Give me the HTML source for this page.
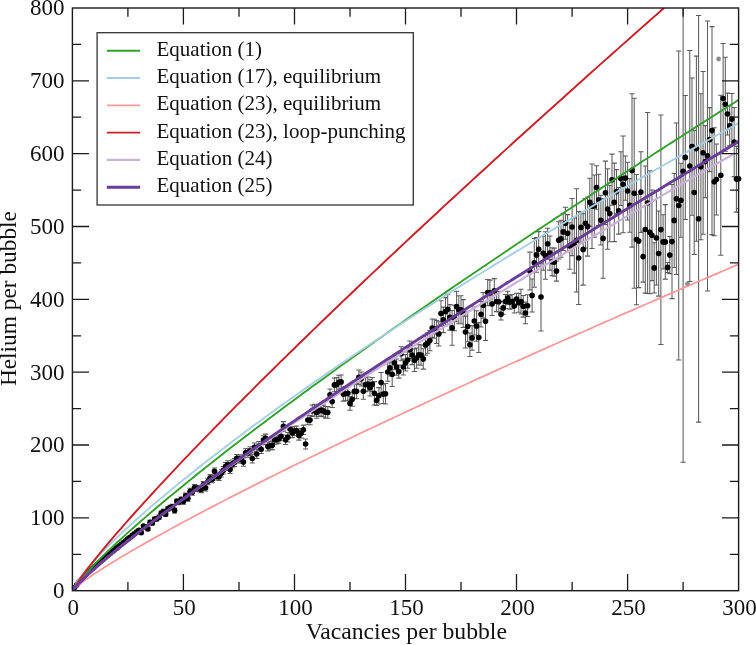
<!DOCTYPE html>
<html><head><meta charset="utf-8"><title>Helium per bubble</title>
<style>
html,body{margin:0;padding:0;background:#fff;}
body{width:756px;height:645px;position:relative;overflow:hidden;font-family:"Liberation Serif",serif;}
svg text{font-family:"Liberation Serif",serif;fill:#111;}
.lg{font-size:21px;}
.tk{font-size:23px;}
.ax{font-size:23.7px;}.ay{font-size:23.35px;}
</style></head><body>
<svg width="756" height="645" viewBox="0 0 756 645" style="position:absolute;left:0;top:0">
<defs><clipPath id="c"><rect x="72.4" y="8.0" width="666.2" height="582.7"/></clipPath></defs>
<g clip-path="url(#c)">
<path d="M74.6 587.4V587.5M72.0 587.4h5.2M72.0 587.5h5.2M76.8 584.6V584.8M74.2 584.6h5.2M74.2 584.8h5.2M79.1 581.9V582.3M76.5 581.9h5.2M76.5 582.3h5.2M81.3 579.3V579.8M78.7 579.3h5.2M78.7 579.8h5.2M83.5 576.8V577.3M80.9 576.8h5.2M80.9 577.3h5.2M85.7 574.3V575.0M83.1 574.3h5.2M83.1 575.0h5.2M87.9 572.2V573.0M85.3 572.2h5.2M85.3 573.0h5.2M90.2 570.1V571.0M87.6 570.1h5.2M87.6 571.0h5.2M92.4 568.1V569.1M89.8 568.1h5.2M89.8 569.1h5.2M94.6 566.1V567.1M92.0 566.1h5.2M92.0 567.1h5.2M96.8 564.1V565.3M94.2 564.1h5.2M94.2 565.3h5.2M99.0 562.1V563.4M96.4 562.1h5.2M96.4 563.4h5.2M101.3 560.1V561.5M98.7 560.1h5.2M98.7 561.5h5.2M103.5 558.2V559.7M100.9 558.2h5.2M100.9 559.7h5.2M105.7 556.2V557.9M103.1 556.2h5.2M103.1 557.9h5.2M107.9 554.3V556.1M105.3 554.3h5.2M105.3 556.1h5.2M110.2 552.4V554.3M107.6 552.4h5.2M107.6 554.3h5.2M112.4 550.5V552.5M109.8 550.5h5.2M109.8 552.5h5.2M114.6 548.6V550.7M112.0 548.6h5.2M112.0 550.7h5.2M116.8 546.8V548.9M114.2 546.8h5.2M114.2 548.9h5.2M119.0 544.9V547.2M116.4 544.9h5.2M116.4 547.2h5.2M121.3 543.1V545.5M118.7 543.1h5.2M118.7 545.5h5.2M123.5 541.2V543.7M120.9 541.2h5.2M120.9 543.7h5.2M125.7 539.4V542.0M123.1 539.4h5.2M123.1 542.0h5.2M127.9 537.6V540.3M125.3 537.6h5.2M125.3 540.3h5.2M130.1 535.8V538.6M127.5 535.8h5.2M127.5 538.6h5.2M132.4 533.9V536.9M129.8 533.9h5.2M129.8 536.9h5.2M134.6 532.1V535.2M132.0 532.1h5.2M132.0 535.2h5.2M136.8 530.4V533.5M134.2 530.4h5.2M134.2 533.5h5.2M139.0 528.6V531.9M136.4 528.6h5.2M136.4 531.9h5.2M141.2 530.9V534.3M138.6 530.9h5.2M138.6 534.3h5.2M143.5 524.4V527.9M140.9 524.4h5.2M140.9 527.9h5.2M145.7 525.1V528.7M143.1 525.1h5.2M143.1 528.7h5.2M147.9 527.1V530.8M145.3 527.1h5.2M145.3 530.8h5.2M150.1 520.3V524.2M147.5 520.3h5.2M147.5 524.2h5.2M152.3 521.0V524.9M149.7 521.0h5.2M149.7 524.9h5.2M154.6 517.1V521.2M152.0 517.1h5.2M152.0 521.2h5.2M156.8 516.8V520.9M154.2 516.8h5.2M154.2 520.9h5.2M159.0 515.0V519.3M156.4 515.0h5.2M156.4 519.3h5.2M161.2 511.1V515.4M158.6 511.1h5.2M158.6 515.4h5.2M163.4 509.2V513.7M160.8 509.2h5.2M160.8 513.7h5.2M165.7 511.8V516.4M163.1 511.8h5.2M163.1 516.4h5.2M167.9 506.6V511.3M165.3 506.6h5.2M165.3 511.3h5.2M170.1 505.2V510.0M167.5 505.2h5.2M167.5 510.0h5.2M172.3 504.3V509.2M169.7 504.3h5.2M169.7 509.2h5.2M174.6 507.9V512.9M172.0 507.9h5.2M172.0 512.9h5.2M176.8 498.9V504.0M174.2 498.9h5.2M174.2 504.0h5.2M179.0 499.4V504.7M176.4 499.4h5.2M176.4 504.7h5.2M181.2 496.9V502.2M178.6 496.9h5.2M178.6 502.2h5.2M183.4 498.7V504.2M180.8 498.7h5.2M180.8 504.2h5.2M185.7 493.1V498.7M183.1 493.1h5.2M183.1 498.7h5.2M187.9 495.6V501.2M185.3 495.6h5.2M185.3 501.2h5.2M190.1 488.3V494.1M187.5 488.3h5.2M187.5 494.1h5.2M192.3 489.3V495.2M189.7 489.3h5.2M189.7 495.2h5.2M194.5 484.5V490.5M191.9 484.5h5.2M191.9 490.5h5.2M196.8 485.3V491.4M194.2 485.3h5.2M194.2 491.4h5.2M199.0 485.4V491.6M196.4 485.4h5.2M196.4 491.6h5.2M201.2 486.3V492.6M198.6 486.3h5.2M198.6 492.6h5.2M203.4 481.4V487.8M200.8 481.4h5.2M200.8 487.8h5.2M205.6 484.4V491.0M203.0 484.4h5.2M203.0 491.0h5.2M207.9 478.2V484.8M205.3 478.2h5.2M205.3 484.8h5.2M210.1 474.6V481.4M207.5 474.6h5.2M207.5 481.4h5.2M212.3 475.9V482.8M209.7 475.9h5.2M209.7 482.8h5.2M214.5 467.9V474.9M211.9 467.9h5.2M211.9 474.9h5.2M216.7 472.8V479.9M214.1 472.8h5.2M214.1 479.9h5.2M219.0 473.1V480.4M216.4 473.1h5.2M216.4 480.4h5.2M221.2 469.7V477.0M218.6 469.7h5.2M218.6 477.0h5.2M223.4 466.5V473.9M220.8 466.5h5.2M220.8 473.9h5.2M225.6 462.4V470.0M223.0 462.4h5.2M223.0 470.0h5.2M227.8 460.8V468.5M225.2 460.8h5.2M225.2 468.5h5.2M230.1 465.8V473.5M227.5 465.8h5.2M227.5 473.5h5.2M232.3 460.0V467.8M229.7 460.0h5.2M229.7 467.8h5.2M234.5 458.5V466.5M231.9 458.5h5.2M231.9 466.5h5.2M236.7 454.4V462.4M234.1 454.4h5.2M234.1 462.4h5.2M239.0 454.9V463.0M236.4 454.9h5.2M236.4 463.0h5.2M241.2 454.8V463.1M238.6 454.8h5.2M238.6 463.1h5.2M243.4 457.9V466.3M240.8 457.9h5.2M240.8 466.3h5.2M245.6 448.7V457.2M243.0 448.7h5.2M243.0 457.2h5.2M247.8 448.6V457.2M245.2 448.6h5.2M245.2 457.2h5.2M250.1 446.7V455.4M247.5 446.7h5.2M247.5 455.4h5.2M252.3 454.1V462.9M249.7 454.1h5.2M249.7 462.9h5.2M254.5 442.9V451.9M251.9 442.9h5.2M251.9 451.9h5.2M256.7 449.4V458.5M254.1 449.4h5.2M254.1 458.5h5.2M258.9 441.5V450.7M256.3 441.5h5.2M256.3 450.7h5.2M261.2 444.9V453.5M258.6 444.9h5.2M258.6 453.5h5.2M263.4 435.8V444.4M260.8 435.8h5.2M260.8 444.4h5.2M265.6 434.1V442.7M263.0 434.1h5.2M263.0 442.7h5.2M267.8 442.3V450.9M265.2 442.3h5.2M265.2 450.9h5.2M270.0 441.5V450.0M267.4 441.5h5.2M267.4 450.0h5.2M272.3 441.0V449.6M269.7 441.0h5.2M269.7 449.6h5.2M274.5 435.6V444.1M271.9 435.6h5.2M271.9 444.1h5.2M276.7 435.4V444.0M274.1 435.4h5.2M274.1 444.0h5.2M278.9 434.4V443.3M276.3 434.4h5.2M276.3 443.3h5.2M281.1 431.8V440.7M278.5 431.8h5.2M278.5 440.7h5.2M283.4 421.6V431.1M280.8 421.6h5.2M280.8 431.1h5.2M285.6 435.0V444.4M283.0 435.0h5.2M283.0 444.4h5.2M287.8 432.4V441.9M285.2 432.4h5.2M285.2 441.9h5.2M290.0 424.0V433.9M287.4 424.0h5.2M287.4 433.9h5.2M292.2 428.1V437.6M289.6 428.1h5.2M289.6 437.6h5.2M294.5 426.4V435.8M291.9 426.4h5.2M291.9 435.8h5.2M296.7 425.9V435.4M294.1 425.9h5.2M294.1 435.4h5.2M298.9 430.7V440.1M296.3 430.7h5.2M296.3 440.1h5.2M301.1 428.6V438.0M298.5 428.6h5.2M298.5 438.0h5.2M303.4 425.1V434.5M300.8 425.1h5.2M300.8 434.5h5.2M305.6 439.0V449.0M303.0 439.0h5.2M303.0 449.0h5.2M307.8 415.2V424.7M305.2 415.2h5.2M305.2 424.7h5.2M310.0 415.4V424.8M307.4 415.4h5.2M307.4 424.8h5.2M312.2 404.9V416.5M309.6 404.9h5.2M309.6 416.5h5.2M314.5 404.3V416.0M311.9 404.3h5.2M311.9 416.0h5.2M316.7 406.6V418.3M314.1 406.6h5.2M314.1 418.3h5.2M318.9 404.9V416.5M316.3 404.9h5.2M316.3 416.5h5.2M321.1 404.3V416.0M318.5 404.3h5.2M318.5 416.0h5.2M323.3 405.1V416.8M320.7 405.1h5.2M320.7 416.8h5.2M325.6 406.4V418.1M323.0 406.4h5.2M323.0 418.1h5.2M327.8 406.6V418.3M325.2 406.6h5.2M325.2 418.3h5.2M330.0 388.9V400.5M327.4 388.9h5.2M327.4 400.5h5.2M332.2 395.8V407.4M329.6 395.8h5.2M329.6 407.4h5.2M334.4 377.9V391.8M331.8 377.9h5.2M331.8 391.8h5.2M336.7 377.6V391.6M334.1 377.6h5.2M334.1 391.6h5.2M338.9 375.2V389.2M336.3 375.2h5.2M336.3 389.2h5.2M341.1 374.9V388.9M338.5 374.9h5.2M338.5 388.9h5.2M343.3 387.1V401.1M340.7 387.1h5.2M340.7 401.1h5.2M345.5 386.6V400.6M342.9 386.6h5.2M342.9 400.6h5.2M347.8 386.2V400.2M345.2 386.2h5.2M345.2 400.2h5.2M350.0 396.4V410.3M347.4 396.4h5.2M347.4 410.3h5.2M352.2 392.3V406.3M349.6 392.3h5.2M349.6 406.3h5.2M354.4 384.4V398.4M351.8 384.4h5.2M351.8 398.4h5.2M356.6 383.6V398.8M354.0 383.6h5.2M354.0 398.8h5.2M358.9 370.0V384.4M356.3 370.0h5.2M356.3 384.4h5.2M361.1 372.0V385.9M358.5 372.0h5.2M358.5 385.9h5.2M363.3 383.0V399.3M360.7 383.0h5.2M360.7 399.3h5.2M365.5 377.8V391.8M362.9 377.8h5.2M362.9 391.8h5.2M367.8 377.0V391.0M365.2 377.0h5.2M365.2 391.0h5.2M370.0 379.5V395.9M367.4 379.5h5.2M367.4 395.9h5.2M372.2 377.4V391.4M369.6 377.4h5.2M369.6 391.4h5.2M374.4 381.6V404.9M371.8 381.6h5.2M371.8 404.9h5.2M376.6 395.0V405.5M374.0 395.0h5.2M374.0 405.5h5.2M378.9 387.6V403.9M376.3 387.6h5.2M376.3 403.9h5.2M381.1 372.5V392.4M378.5 372.5h5.2M378.5 392.4h5.2M383.3 384.8V403.4M380.7 384.8h5.2M380.7 403.4h5.2M385.5 383.5V403.9M382.9 383.5h5.2M382.9 403.9h5.2M387.7 362.6V381.3M385.1 362.6h5.2M385.1 381.3h5.2M390.0 359.7V376.0M387.4 359.7h5.2M387.4 376.0h5.2M392.2 362.1V386.5M389.6 362.1h5.2M389.6 386.5h5.2M394.4 355.7V369.7M391.8 355.7h5.2M391.8 369.7h5.2M396.6 358.9V375.2M394.0 358.9h5.2M394.0 375.2h5.2M398.8 365.1V378.1M396.2 365.1h5.2M396.2 378.1h5.2M401.1 346.8V360.7M398.5 346.8h5.2M398.5 360.7h5.2M403.3 359.1V374.9M400.7 359.1h5.2M400.7 374.9h5.2M405.5 354.6V370.9M402.9 354.6h5.2M402.9 370.9h5.2M407.7 351.9V368.2M405.1 351.9h5.2M405.1 368.2h5.2M409.9 340.9V358.6M407.3 340.9h5.2M407.3 358.6h5.2M412.2 345.5V364.6M409.6 345.5h5.2M409.6 364.6h5.2M414.4 348.9V371.4M411.8 348.9h5.2M411.8 371.4h5.2M416.6 347.9V368.2M414.0 347.9h5.2M414.0 368.2h5.2M418.8 344.6V365.0M416.2 344.6h5.2M416.2 365.0h5.2M421.0 344.9V365.3M418.4 344.9h5.2M418.4 365.3h5.2M423.3 348.7V369.1M420.7 348.7h5.2M420.7 369.1h5.2M425.5 334.7V355.1M422.9 334.7h5.2M422.9 355.1h5.2M427.7 332.9V353.3M425.1 332.9h5.2M425.1 353.3h5.2M429.9 330.4V350.8M427.3 330.4h5.2M427.3 350.8h5.2M432.2 318.9V337.3M429.6 318.9h5.2M429.6 337.3h5.2M434.4 319.2V338.3M431.8 319.2h5.2M431.8 338.3h5.2M436.6 320.5V343.4M434.0 320.5h5.2M434.0 343.4h5.2M438.8 321.8V346.0M436.2 321.8h5.2M436.2 346.0h5.2M441.0 300.8V326.3M438.4 300.8h5.2M438.4 326.3h5.2M443.3 307.1V332.6M440.7 307.1h5.2M440.7 332.6h5.2M445.5 297.6V325.6M442.9 297.6h5.2M442.9 325.6h5.2M447.7 294.1V324.5M445.1 294.1h5.2M445.1 324.5h5.2M449.9 304.6V330.1M447.3 304.6h5.2M447.3 330.1h5.2M452.1 310.5V345.3M449.5 310.5h5.2M449.5 345.3h5.2M454.4 305.2V330.7M451.8 305.2h5.2M451.8 330.7h5.2M456.6 291.3V321.8M454.0 291.3h5.2M454.0 321.8h5.2M458.8 295.7V323.7M456.2 295.7h5.2M456.2 323.7h5.2M461.0 295.8V323.7M458.4 295.8h5.2M458.4 323.7h5.2M463.2 299.6V327.5M460.6 299.6h5.2M460.6 327.5h5.2M465.5 316.1V347.9M462.9 316.1h5.2M462.9 347.9h5.2M467.7 311.3V341.7M465.1 311.3h5.2M465.1 341.7h5.2M469.9 332.9V356.5M467.3 332.9h5.2M467.3 356.5h5.2M472.1 325.6V350.2M469.5 325.6h5.2M469.5 350.2h5.2M474.3 307.0V335.0M471.7 307.0h5.2M471.7 335.0h5.2M476.6 310.8V341.3M474.0 310.8h5.2M474.0 341.3h5.2M478.8 322.6V352.4M476.2 322.6h5.2M476.2 352.4h5.2M481.0 301.5V326.9M478.4 301.5h5.2M478.4 326.9h5.2M483.2 292.6V318.1M480.6 292.6h5.2M480.6 318.1h5.2M485.5 302.3V340.4M482.9 302.3h5.2M482.9 340.4h5.2M487.7 279.5V305.7M485.1 279.5h5.2M485.1 305.7h5.2M489.9 280.1V305.6M487.3 280.1h5.2M487.3 305.6h5.2M492.1 292.6V315.4M489.5 292.6h5.2M489.5 315.4h5.2M494.3 278.6V302.8M491.7 278.6h5.2M491.7 302.8h5.2M496.6 291.3V311.6M494.0 291.3h5.2M494.0 311.6h5.2M498.8 291.5V311.9M496.2 291.5h5.2M496.2 311.9h5.2M501.0 308.4V320.0M498.4 308.4h5.2M498.4 320.0h5.2M503.2 301.5V314.2M500.6 301.5h5.2M500.6 314.2h5.2M505.4 294.5V308.4M502.8 294.5h5.2M502.8 308.4h5.2M507.7 291.3V304.8M505.1 291.3h5.2M505.1 304.8h5.2M509.9 295.1V309.1M507.3 295.1h5.2M507.3 309.1h5.2M512.1 294.5V308.4M509.5 294.5h5.2M509.5 308.4h5.2M514.3 299.0V313.0M511.7 299.0h5.2M511.7 313.0h5.2M516.5 293.2V304.7M513.9 293.2h5.2M513.9 304.7h5.2M518.8 293.5V312.2M516.2 293.5h5.2M516.2 312.2h5.2M521.0 289.2V314.0M518.4 289.2h5.2M518.4 314.0h5.2M523.2 295.4V317.1M520.6 295.4h5.2M520.6 317.1h5.2M525.4 302.1V323.8M522.8 302.1h5.2M522.8 323.8h5.2M527.6 294.8V316.5M525.0 294.8h5.2M525.0 316.5h5.2M529.9 252.1V290.0M527.3 252.1h5.2M527.3 290.0h5.2M532.1 278.9V311.9M529.5 278.9h5.2M529.5 311.9h5.2M534.3 238.5V287.2M531.7 238.5h5.2M531.7 287.2h5.2M536.5 237.6V272.2M533.9 237.6h5.2M533.9 272.2h5.2M538.7 231.6V266.7M536.1 231.6h5.2M536.1 266.7h5.2M541.0 263.1V331.0M538.4 263.1h5.2M538.4 331.0h5.2M543.2 236.2V270.3M540.6 236.2h5.2M540.6 270.3h5.2M545.4 231.8V279.3M542.8 231.8h5.2M542.8 279.3h5.2M547.6 228.2V259.2M545.0 228.2h5.2M545.0 259.2h5.2M549.9 236.0V270.1M547.3 236.0h5.2M547.3 270.1h5.2M552.1 247.8V275.7M549.5 247.8h5.2M549.5 275.7h5.2M554.3 248.1V276.1M551.7 248.1h5.2M551.7 276.1h5.2M556.5 261.0V281.1M553.9 261.0h5.2M553.9 281.1h5.2M558.7 221.8V258.9M556.1 221.8h5.2M556.1 258.9h5.2M561.0 220.2V257.3M558.4 220.2h5.2M558.4 257.3h5.2M563.2 213.3V250.5M560.6 213.3h5.2M560.6 250.5h5.2M565.4 207.3V239.2M562.8 207.3h5.2M562.8 239.2h5.2M567.6 214.6V251.8M565.0 214.6h5.2M565.0 251.8h5.2M569.8 222.8V269.3M567.2 222.8h5.2M567.2 269.3h5.2M572.1 198.5V255.6M569.5 198.5h5.2M569.5 255.6h5.2M574.3 217.9V273.1M571.7 217.9h5.2M571.7 273.1h5.2M576.5 188.7V292.0M573.9 188.7h5.2M573.9 292.0h5.2M578.7 211.4V304.5M576.1 211.4h5.2M576.1 304.5h5.2M580.9 212.7V242.2M578.3 212.7h5.2M578.3 242.2h5.2M583.2 213.8V285.1M580.6 213.8h5.2M580.6 285.1h5.2M585.4 198.4V248.1M582.8 198.4h5.2M582.8 248.1h5.2M587.6 197.2V256.1M585.0 197.2h5.2M585.0 256.1h5.2M589.8 178.3V226.1M587.2 178.3h5.2M587.2 226.1h5.2M592.0 164.0V248.4M589.4 164.0h5.2M589.4 248.4h5.2M594.3 175.0V237.1M591.7 175.0h5.2M591.7 237.1h5.2M596.5 165.8V209.2M593.9 165.8h5.2M593.9 209.2h5.2M598.7 174.3V225.4M596.1 174.3h5.2M596.1 225.4h5.2M600.9 195.3V245.0M598.3 195.3h5.2M598.3 245.0h5.2M603.1 198.6V278.3M600.5 198.6h5.2M600.5 278.3h5.2M605.4 161.1V224.6M602.8 161.1h5.2M602.8 224.6h5.2M607.6 168.7V249.3M605.0 168.7h5.2M605.0 249.3h5.2M609.8 185.4V241.8M607.2 185.4h5.2M607.2 241.8h5.2M612.0 154.1V205.2M609.4 154.1h5.2M609.4 205.2h5.2M614.3 163.1V241.6M611.7 163.1h5.2M611.7 241.6h5.2M616.5 169.6V213.6M613.9 169.6h5.2M613.9 213.6h5.2M618.7 187.6V234.1M616.1 187.6h5.2M616.1 234.1h5.2M620.9 151.8V205.4M618.3 151.8h5.2M618.3 205.4h5.2M623.1 136.0V232.7M620.5 136.0h5.2M620.5 232.7h5.2M625.4 156.0V200.3M622.8 156.0h5.2M622.8 200.3h5.2M627.6 162.2V219.9M625.0 162.2h5.2M625.0 219.9h5.2M629.8 178.6V232.3M627.2 178.6h5.2M627.2 232.3h5.2M632.0 93.7V247.1M629.4 93.7h5.2M629.4 247.1h5.2M634.2 98.2V288.2M631.6 98.2h5.2M631.6 288.2h5.2M636.5 174.4V304.7M633.9 174.4h5.2M633.9 304.7h5.2M638.7 194.5V287.6M636.1 194.5h5.2M636.1 287.6h5.2M640.9 151.8V232.4M638.3 151.8h5.2M638.3 232.4h5.2M643.1 231.0V282.1M640.5 231.0h5.2M640.5 282.1h5.2M645.3 165.9V293.1M642.7 165.9h5.2M642.7 293.1h5.2M647.6 112.5V293.4M645.0 112.5h5.2M645.0 293.4h5.2M649.8 170.7V293.8M647.2 170.7h5.2M647.2 293.8h5.2M652.0 190.0V280.6M649.4 190.0h5.2M649.4 280.6h5.2M654.2 242.7V293.0M651.6 242.7h5.2M651.6 293.0h5.2M656.4 191.0V285.0M653.8 191.0h5.2M653.8 285.0h5.2M658.7 210.9V296.1M656.1 210.9h5.2M656.1 296.1h5.2M660.9 114.9V344.4M658.3 114.9h5.2M658.3 344.4h5.2M663.1 214.8V269.0M660.5 214.8h5.2M660.5 269.0h5.2M665.3 204.6V279.1M662.7 204.6h5.2M662.7 279.1h5.2M667.5 262.5V272.4M664.9 262.5h5.2M664.9 272.4h5.2M669.8 236.5V273.6M667.2 236.5h5.2M667.2 273.6h5.2M672.0 184.5V298.6M669.4 184.5h5.2M669.4 298.6h5.2M674.2 173.4V267.4M671.6 173.4h5.2M671.6 267.4h5.2M676.4 123.0V274.4M673.8 123.0h5.2M673.8 274.4h5.2M678.7 51.0V360.0M676.1 51.0h5.2M676.1 360.0h5.2M680.9 163.2V237.2M678.3 163.2h5.2M678.3 237.2h5.2M683.1 -119.7V462.3M680.5 -119.7h5.2M680.5 462.3h5.2M685.3 95.4V219.4M682.7 95.4h5.2M682.7 219.4h5.2M689.8 50.4V281.5M687.2 50.4h5.2M687.2 281.5h5.2M692.0 78.0V215.2M689.4 78.0h5.2M689.4 215.2h5.2M694.2 130.5V254.5M691.6 130.5h5.2M691.6 254.5h5.2M696.4 56.1V241.2M693.8 56.1h5.2M693.8 241.2h5.2M698.6 15.4V422.1M696.0 15.4h5.2M696.0 422.1h5.2M700.9 93.7V239.7M698.3 93.7h5.2M698.3 239.7h5.2M703.1 71.4V234.2M700.5 71.4h5.2M700.5 234.2h5.2M705.3 125.6V197.6M702.7 125.6h5.2M702.7 197.6h5.2M707.5 20.9V290.9M704.9 20.9h5.2M704.9 290.9h5.2M709.7 107.6V171.6M707.1 107.6h5.2M707.1 171.6h5.2M712.0 26.6V234.6M709.4 26.6h5.2M709.4 234.6h5.2M714.2 127.8V235.8M711.6 127.8h5.2M711.6 235.8h5.2M716.4 144.0V215.0M713.8 144.0h5.2M713.8 215.0h5.2M720.8 95.3V255.3M718.2 95.3h5.2M718.2 255.3h5.2M723.1 43.5V153.5M720.5 43.5h5.2M720.5 153.5h5.2M725.3 57.3V151.3M722.7 57.3h5.2M722.7 151.3h5.2M727.5 93.1V135.0M724.9 93.1h5.2M724.9 135.0h5.2M729.7 105.7V145.7M727.1 105.7h5.2M727.1 145.7h5.2M731.9 93.4V144.8M729.3 93.4h5.2M729.3 144.8h5.2M734.2 107.4V176.6M731.6 107.4h5.2M731.6 176.6h5.2M736.4 146.1V212.1M733.8 146.1h5.2M733.8 212.1h5.2M738.6 148.7V208.7M736.0 148.7h5.2M736.0 208.7h5.2" stroke="#5c5c5c" stroke-width="1.05" fill="none"/>
</g>
<circle cx="74.6" cy="587.5" r="2.8"/>
<circle cx="76.8" cy="584.7" r="2.8"/>
<circle cx="79.1" cy="582.1" r="2.8"/>
<circle cx="81.3" cy="579.6" r="2.8"/>
<circle cx="83.5" cy="577.1" r="2.8"/>
<circle cx="85.7" cy="574.6" r="2.8"/>
<circle cx="87.9" cy="572.6" r="2.8"/>
<circle cx="90.2" cy="570.6" r="2.8"/>
<circle cx="92.4" cy="568.6" r="2.8"/>
<circle cx="94.6" cy="566.6" r="2.8"/>
<circle cx="96.8" cy="564.7" r="2.8"/>
<circle cx="99.0" cy="562.7" r="2.8"/>
<circle cx="101.3" cy="560.8" r="2.8"/>
<circle cx="103.5" cy="558.9" r="2.8"/>
<circle cx="105.7" cy="557.0" r="2.8"/>
<circle cx="107.9" cy="555.2" r="2.8"/>
<circle cx="110.2" cy="553.3" r="2.8"/>
<circle cx="112.4" cy="551.5" r="2.8"/>
<circle cx="114.6" cy="549.7" r="2.8"/>
<circle cx="116.8" cy="547.9" r="2.8"/>
<circle cx="119.0" cy="546.1" r="2.8"/>
<circle cx="121.3" cy="544.3" r="2.8"/>
<circle cx="123.5" cy="542.5" r="2.8"/>
<circle cx="125.7" cy="540.7" r="2.8"/>
<circle cx="127.9" cy="538.9" r="2.8"/>
<circle cx="130.1" cy="537.2" r="2.8"/>
<circle cx="132.4" cy="535.4" r="2.8"/>
<circle cx="134.6" cy="533.7" r="2.8"/>
<circle cx="136.8" cy="531.9" r="2.8"/>
<circle cx="139.0" cy="530.2" r="2.8"/>
<circle cx="141.2" cy="532.6" r="2.8"/>
<circle cx="143.5" cy="526.1" r="2.8"/>
<circle cx="145.7" cy="526.9" r="2.8"/>
<circle cx="147.9" cy="529.0" r="2.8"/>
<circle cx="150.1" cy="522.3" r="2.8"/>
<circle cx="152.3" cy="522.9" r="2.8"/>
<circle cx="154.6" cy="519.2" r="2.8"/>
<circle cx="156.8" cy="518.8" r="2.8"/>
<circle cx="159.0" cy="517.2" r="2.8"/>
<circle cx="161.2" cy="513.2" r="2.8"/>
<circle cx="163.4" cy="511.5" r="2.8"/>
<circle cx="165.7" cy="514.1" r="2.8"/>
<circle cx="167.9" cy="509.0" r="2.8"/>
<circle cx="170.1" cy="507.6" r="2.8"/>
<circle cx="172.3" cy="506.7" r="2.8"/>
<circle cx="174.6" cy="510.4" r="2.8"/>
<circle cx="176.8" cy="501.4" r="2.8"/>
<circle cx="179.0" cy="502.0" r="2.8"/>
<circle cx="181.2" cy="499.6" r="2.8"/>
<circle cx="183.4" cy="501.4" r="2.8"/>
<circle cx="185.7" cy="495.9" r="2.8"/>
<circle cx="187.9" cy="498.4" r="2.8"/>
<circle cx="190.1" cy="491.2" r="2.8"/>
<circle cx="192.3" cy="492.3" r="2.8"/>
<circle cx="194.5" cy="487.5" r="2.8"/>
<circle cx="196.8" cy="488.4" r="2.8"/>
<circle cx="199.0" cy="488.5" r="2.8"/>
<circle cx="201.2" cy="489.5" r="2.8"/>
<circle cx="203.4" cy="484.6" r="2.8"/>
<circle cx="205.6" cy="487.7" r="2.8"/>
<circle cx="207.9" cy="481.5" r="2.8"/>
<circle cx="210.1" cy="478.0" r="2.8"/>
<circle cx="212.3" cy="479.3" r="2.8"/>
<circle cx="214.5" cy="471.4" r="2.8"/>
<circle cx="216.7" cy="476.3" r="2.8"/>
<circle cx="219.0" cy="476.8" r="2.8"/>
<circle cx="221.2" cy="473.3" r="2.8"/>
<circle cx="223.4" cy="470.2" r="2.8"/>
<circle cx="225.6" cy="466.2" r="2.8"/>
<circle cx="227.8" cy="464.6" r="2.8"/>
<circle cx="230.1" cy="469.6" r="2.8"/>
<circle cx="232.3" cy="463.9" r="2.8"/>
<circle cx="234.5" cy="462.5" r="2.8"/>
<circle cx="236.7" cy="458.4" r="2.8"/>
<circle cx="239.0" cy="459.0" r="2.8"/>
<circle cx="241.2" cy="458.9" r="2.8"/>
<circle cx="243.4" cy="462.1" r="2.8"/>
<circle cx="245.6" cy="452.9" r="2.8"/>
<circle cx="247.8" cy="452.9" r="2.8"/>
<circle cx="250.1" cy="451.0" r="2.8"/>
<circle cx="252.3" cy="458.5" r="2.8"/>
<circle cx="254.5" cy="447.4" r="2.8"/>
<circle cx="256.7" cy="454.0" r="2.8"/>
<circle cx="258.9" cy="446.1" r="2.8"/>
<circle cx="261.2" cy="449.2" r="2.8"/>
<circle cx="263.4" cy="440.1" r="2.8"/>
<circle cx="265.6" cy="438.4" r="2.8"/>
<circle cx="267.8" cy="446.6" r="2.8"/>
<circle cx="270.0" cy="445.7" r="2.8"/>
<circle cx="272.3" cy="445.3" r="2.8"/>
<circle cx="274.5" cy="439.8" r="2.8"/>
<circle cx="276.7" cy="439.7" r="2.8"/>
<circle cx="278.9" cy="438.8" r="2.8"/>
<circle cx="281.1" cy="436.3" r="2.8"/>
<circle cx="283.4" cy="426.4" r="2.8"/>
<circle cx="285.6" cy="439.7" r="2.8"/>
<circle cx="287.8" cy="437.2" r="2.8"/>
<circle cx="290.0" cy="429.0" r="2.8"/>
<circle cx="292.2" cy="432.9" r="2.8"/>
<circle cx="294.5" cy="431.1" r="2.8"/>
<circle cx="296.7" cy="430.7" r="2.8"/>
<circle cx="298.9" cy="435.4" r="2.8"/>
<circle cx="301.1" cy="433.3" r="2.8"/>
<circle cx="303.4" cy="429.8" r="2.8"/>
<circle cx="305.6" cy="444.0" r="2.8"/>
<circle cx="307.8" cy="420.0" r="2.8"/>
<circle cx="310.0" cy="420.1" r="2.8"/>
<circle cx="312.2" cy="410.7" r="2.8"/>
<circle cx="314.5" cy="410.1" r="2.8"/>
<circle cx="316.7" cy="412.5" r="2.8"/>
<circle cx="318.9" cy="410.7" r="2.8"/>
<circle cx="321.1" cy="410.1" r="2.8"/>
<circle cx="323.3" cy="410.9" r="2.8"/>
<circle cx="325.6" cy="412.2" r="2.8"/>
<circle cx="327.8" cy="412.5" r="2.8"/>
<circle cx="330.0" cy="394.7" r="2.8"/>
<circle cx="332.2" cy="401.6" r="2.8"/>
<circle cx="334.4" cy="384.9" r="2.8"/>
<circle cx="336.7" cy="384.6" r="2.8"/>
<circle cx="338.9" cy="382.2" r="2.8"/>
<circle cx="341.1" cy="381.9" r="2.8"/>
<circle cx="343.3" cy="394.1" r="2.8"/>
<circle cx="345.5" cy="393.6" r="2.8"/>
<circle cx="347.8" cy="393.2" r="2.8"/>
<circle cx="350.0" cy="403.4" r="2.8"/>
<circle cx="352.2" cy="399.3" r="2.8"/>
<circle cx="354.4" cy="391.4" r="2.8"/>
<circle cx="356.6" cy="391.2" r="2.8"/>
<circle cx="358.9" cy="377.2" r="2.8"/>
<circle cx="361.1" cy="379.0" r="2.8"/>
<circle cx="363.3" cy="391.2" r="2.8"/>
<circle cx="365.5" cy="384.8" r="2.8"/>
<circle cx="367.8" cy="384.0" r="2.8"/>
<circle cx="370.0" cy="387.7" r="2.8"/>
<circle cx="372.2" cy="384.4" r="2.8"/>
<circle cx="374.4" cy="393.2" r="2.8"/>
<circle cx="376.6" cy="400.2" r="2.8"/>
<circle cx="378.9" cy="395.8" r="2.8"/>
<circle cx="381.1" cy="382.5" r="2.8"/>
<circle cx="383.3" cy="394.1" r="2.8"/>
<circle cx="385.5" cy="393.7" r="2.8"/>
<circle cx="387.7" cy="372.0" r="2.8"/>
<circle cx="390.0" cy="367.9" r="2.8"/>
<circle cx="392.2" cy="374.3" r="2.8"/>
<circle cx="394.4" cy="362.7" r="2.8"/>
<circle cx="396.6" cy="367.0" r="2.8"/>
<circle cx="398.8" cy="371.6" r="2.8"/>
<circle cx="401.1" cy="353.8" r="2.8"/>
<circle cx="403.3" cy="367.0" r="2.8"/>
<circle cx="405.5" cy="362.7" r="2.8"/>
<circle cx="407.7" cy="360.0" r="2.8"/>
<circle cx="409.9" cy="349.7" r="2.8"/>
<circle cx="412.2" cy="355.1" r="2.8"/>
<circle cx="414.4" cy="360.2" r="2.8"/>
<circle cx="416.6" cy="358.0" r="2.8"/>
<circle cx="418.8" cy="354.8" r="2.8"/>
<circle cx="421.0" cy="355.1" r="2.8"/>
<circle cx="423.3" cy="358.9" r="2.8"/>
<circle cx="425.5" cy="344.9" r="2.8"/>
<circle cx="427.7" cy="343.1" r="2.8"/>
<circle cx="429.9" cy="340.6" r="2.8"/>
<circle cx="432.2" cy="328.1" r="2.8"/>
<circle cx="434.4" cy="328.8" r="2.8"/>
<circle cx="436.6" cy="332.0" r="2.8"/>
<circle cx="438.8" cy="333.9" r="2.8"/>
<circle cx="441.0" cy="313.5" r="2.8"/>
<circle cx="443.3" cy="319.9" r="2.8"/>
<circle cx="445.5" cy="311.6" r="2.8"/>
<circle cx="447.7" cy="309.3" r="2.8"/>
<circle cx="449.9" cy="317.3" r="2.8"/>
<circle cx="452.1" cy="327.9" r="2.8"/>
<circle cx="454.4" cy="318.0" r="2.8"/>
<circle cx="456.6" cy="306.6" r="2.8"/>
<circle cx="458.8" cy="309.7" r="2.8"/>
<circle cx="461.0" cy="309.8" r="2.8"/>
<circle cx="463.2" cy="313.5" r="2.8"/>
<circle cx="465.5" cy="332.0" r="2.8"/>
<circle cx="467.7" cy="326.5" r="2.8"/>
<circle cx="469.9" cy="344.7" r="2.8"/>
<circle cx="472.1" cy="337.9" r="2.8"/>
<circle cx="474.3" cy="321.0" r="2.8"/>
<circle cx="476.6" cy="326.1" r="2.8"/>
<circle cx="478.8" cy="337.5" r="2.8"/>
<circle cx="481.0" cy="314.2" r="2.8"/>
<circle cx="483.2" cy="305.3" r="2.8"/>
<circle cx="485.5" cy="321.3" r="2.8"/>
<circle cx="487.7" cy="292.6" r="2.8"/>
<circle cx="489.9" cy="292.9" r="2.8"/>
<circle cx="492.1" cy="304.0" r="2.8"/>
<circle cx="494.3" cy="290.7" r="2.8"/>
<circle cx="496.6" cy="301.5" r="2.8"/>
<circle cx="498.8" cy="301.7" r="2.8"/>
<circle cx="501.0" cy="314.2" r="2.8"/>
<circle cx="503.2" cy="307.9" r="2.8"/>
<circle cx="505.4" cy="301.5" r="2.8"/>
<circle cx="507.7" cy="298.0" r="2.8"/>
<circle cx="509.9" cy="302.1" r="2.8"/>
<circle cx="512.1" cy="301.5" r="2.8"/>
<circle cx="514.3" cy="306.0" r="2.8"/>
<circle cx="516.5" cy="299.0" r="2.8"/>
<circle cx="518.8" cy="302.8" r="2.8"/>
<circle cx="521.0" cy="301.6" r="2.8"/>
<circle cx="523.2" cy="306.3" r="2.8"/>
<circle cx="525.4" cy="313.0" r="2.8"/>
<circle cx="527.6" cy="305.7" r="2.8"/>
<circle cx="529.9" cy="271.1" r="2.8"/>
<circle cx="532.1" cy="295.4" r="2.8"/>
<circle cx="534.3" cy="262.8" r="2.8"/>
<circle cx="536.5" cy="254.9" r="2.8"/>
<circle cx="538.7" cy="249.2" r="2.8"/>
<circle cx="541.0" cy="297.0" r="2.8"/>
<circle cx="543.2" cy="253.2" r="2.8"/>
<circle cx="545.4" cy="255.6" r="2.8"/>
<circle cx="547.6" cy="243.7" r="2.8"/>
<circle cx="549.9" cy="253.0" r="2.8"/>
<circle cx="552.1" cy="261.8" r="2.8"/>
<circle cx="554.3" cy="262.1" r="2.8"/>
<circle cx="556.5" cy="271.1" r="2.8"/>
<circle cx="558.7" cy="240.3" r="2.8"/>
<circle cx="561.0" cy="238.7" r="2.8"/>
<circle cx="563.2" cy="231.9" r="2.8"/>
<circle cx="565.4" cy="223.2" r="2.8"/>
<circle cx="567.6" cy="233.2" r="2.8"/>
<circle cx="569.8" cy="246.0" r="2.8"/>
<circle cx="572.1" cy="227.0" r="2.8"/>
<circle cx="574.3" cy="245.5" r="2.8"/>
<circle cx="576.5" cy="240.3" r="2.8"/>
<circle cx="578.7" cy="258.0" r="2.8"/>
<circle cx="580.9" cy="227.4" r="2.8"/>
<circle cx="583.2" cy="249.4" r="2.8"/>
<circle cx="585.4" cy="223.2" r="2.8"/>
<circle cx="587.6" cy="226.6" r="2.8"/>
<circle cx="589.8" cy="202.2" r="2.8"/>
<circle cx="592.0" cy="206.2" r="2.8"/>
<circle cx="594.3" cy="206.0" r="2.8"/>
<circle cx="596.5" cy="187.5" r="2.8"/>
<circle cx="598.7" cy="199.8" r="2.8"/>
<circle cx="600.9" cy="220.2" r="2.8"/>
<circle cx="603.1" cy="238.4" r="2.8"/>
<circle cx="605.4" cy="192.8" r="2.8"/>
<circle cx="607.6" cy="209.0" r="2.8"/>
<circle cx="609.8" cy="213.6" r="2.8"/>
<circle cx="612.0" cy="179.7" r="2.8"/>
<circle cx="614.3" cy="202.3" r="2.8"/>
<circle cx="616.5" cy="191.6" r="2.8"/>
<circle cx="618.7" cy="210.8" r="2.8"/>
<circle cx="620.9" cy="178.6" r="2.8"/>
<circle cx="623.1" cy="184.3" r="2.8"/>
<circle cx="625.4" cy="178.1" r="2.8"/>
<circle cx="627.6" cy="191.0" r="2.8"/>
<circle cx="629.8" cy="205.4" r="2.8"/>
<circle cx="632.0" cy="170.4" r="2.8"/>
<circle cx="634.2" cy="193.2" r="2.8"/>
<circle cx="636.5" cy="239.5" r="2.8"/>
<circle cx="638.7" cy="241.1" r="2.8"/>
<circle cx="640.9" cy="192.1" r="2.8"/>
<circle cx="643.1" cy="256.6" r="2.8"/>
<circle cx="645.3" cy="229.5" r="2.8"/>
<circle cx="647.6" cy="203.0" r="2.8"/>
<circle cx="649.8" cy="232.3" r="2.8"/>
<circle cx="652.0" cy="235.3" r="2.8"/>
<circle cx="654.2" cy="267.9" r="2.8"/>
<circle cx="656.4" cy="238.0" r="2.8"/>
<circle cx="658.7" cy="253.5" r="2.8"/>
<circle cx="660.9" cy="229.6" r="2.8"/>
<circle cx="663.1" cy="241.9" r="2.8"/>
<circle cx="665.3" cy="241.9" r="2.8"/>
<circle cx="667.5" cy="267.4" r="2.8"/>
<circle cx="669.8" cy="255.1" r="2.8"/>
<circle cx="672.0" cy="241.6" r="2.8"/>
<circle cx="674.2" cy="220.4" r="2.8"/>
<circle cx="676.4" cy="198.7" r="2.8"/>
<circle cx="678.7" cy="205.5" r="2.8"/>
<circle cx="680.9" cy="200.2" r="2.8"/>
<circle cx="683.1" cy="171.3" r="2.8"/>
<circle cx="685.3" cy="157.4" r="2.8"/>
<circle cx="689.8" cy="166.0" r="2.8"/>
<circle cx="692.0" cy="146.6" r="2.8"/>
<circle cx="694.2" cy="192.5" r="2.8"/>
<circle cx="696.4" cy="148.6" r="2.8"/>
<circle cx="698.6" cy="218.8" r="2.8"/>
<circle cx="700.9" cy="166.7" r="2.8"/>
<circle cx="703.1" cy="152.8" r="2.8"/>
<circle cx="705.3" cy="161.6" r="2.8"/>
<circle cx="707.5" cy="155.9" r="2.8"/>
<circle cx="709.7" cy="139.6" r="2.8"/>
<circle cx="712.0" cy="130.6" r="2.8"/>
<circle cx="714.2" cy="181.8" r="2.8"/>
<circle cx="716.4" cy="179.5" r="2.8"/>
<circle cx="720.8" cy="175.3" r="2.8"/>
<circle cx="723.1" cy="98.5" r="2.8"/>
<circle cx="725.3" cy="104.3" r="2.8"/>
<circle cx="727.5" cy="114.0" r="2.8"/>
<circle cx="729.7" cy="125.7" r="2.8"/>
<circle cx="731.9" cy="119.1" r="2.8"/>
<circle cx="734.2" cy="142.0" r="2.8"/>
<circle cx="736.4" cy="179.1" r="2.8"/>
<circle cx="738.6" cy="178.7" r="2.8"/>
<circle cx="718.6" cy="59.0" r="2.4" fill="#8c8c8c"/>
<circle cx="687.5" cy="284.0" r="2.4" fill="#8c8c8c"/>
<g clip-path="url(#c)">
<polyline points="72.4,590.7 76.8,584.1 81.3,578.7 85.7,573.7 90.2,568.9 94.6,564.3 99.0,559.8 103.5,555.4 107.9,551.1 112.4,546.9 116.8,542.8 121.3,538.7 125.7,534.6 130.1,530.6 134.6,526.7 139.0,522.8 143.5,518.9 147.9,515.1 152.3,511.3 156.8,507.5 161.2,503.8 165.7,500.0 170.1,496.3 174.6,492.7 179.0,489.0 183.4,485.4 187.9,481.8 192.3,478.2 196.8,474.6 201.2,471.1 205.6,467.5 210.1,464.0 214.5,460.5 219.0,457.0 223.4,453.5 227.8,450.1 232.3,446.6 236.7,443.2 241.2,439.8 245.6,436.4 250.1,433.0 254.5,429.6 258.9,426.3 263.4,422.9 267.8,419.5 272.3,416.2 276.7,412.9 281.1,409.6 285.6,406.3 290.0,403.0 294.5,399.7 298.9,396.4 303.4,393.1 307.8,389.9 312.2,386.6 316.7,383.4 321.1,380.2 325.6,376.9 330.0,373.7 334.4,370.5 338.9,367.3 343.3,364.1 347.8,360.9 352.2,357.7 356.6,354.6 361.1,351.4 365.5,348.2 370.0,345.1 374.4,341.9 378.9,338.8 383.3,335.7 387.7,332.5 392.2,329.4 396.6,326.3 401.1,323.2 405.5,320.1 409.9,317.0 414.4,313.9 418.8,310.8 423.3,307.7 427.7,304.7 432.2,301.6 436.6,298.5 441.0,295.5 445.5,292.4 449.9,289.4 454.4,286.3 458.8,283.3 463.2,280.3 467.7,277.2 472.1,274.2 476.6,271.2 481.0,268.2 485.5,265.2 489.9,262.2 494.3,259.2 498.8,256.2 503.2,253.2 507.7,250.2 512.1,247.2 516.5,244.2 521.0,241.3 525.4,238.3 529.9,235.3 534.3,232.4 538.7,229.4 543.2,226.5 547.6,223.5 552.1,220.6 556.5,217.6 561.0,214.7 565.4,211.7 569.8,208.8 574.3,205.9 578.7,203.0 583.2,200.0 587.6,197.1 592.0,194.2 596.5,191.3 600.9,188.4 605.4,185.5 609.8,182.6 614.3,179.7 618.7,176.8 623.1,173.9 627.6,171.0 632.0,168.2 636.5,165.3 640.9,162.4 645.3,159.5 649.8,156.7 654.2,153.8 658.7,150.9 663.1,148.1 667.5,145.2 672.0,142.4 676.4,139.5 680.9,136.7 685.3,133.8 689.8,131.0 694.2,128.1 698.6,125.3 703.1,122.5 707.5,119.6 712.0,116.8 716.4,114.0 720.8,111.1 725.3,108.3 729.7,105.5 734.2,102.7 738.6,99.9" fill="none" stroke="#33a02c" stroke-width="1.9"/>
<polyline points="72.4,590.7 76.8,582.4 81.3,576.1 85.7,570.5 90.2,565.3 94.6,560.3 99.0,555.5 103.5,550.8 107.9,546.3 112.4,541.9 116.8,537.6 121.3,533.4 125.7,529.2 130.1,525.2 134.6,521.1 139.0,517.2 143.5,513.3 147.9,509.4 152.3,505.6 156.8,501.8 161.2,498.1 165.7,494.4 170.1,490.7 174.6,487.1 179.0,483.5 183.4,479.8 187.9,476.2 192.3,472.7 196.8,469.1 201.2,465.6 205.6,462.1 210.1,458.6 214.5,455.2 219.0,451.8 223.4,448.4 227.8,445.0 232.3,441.6 236.7,438.2 241.2,434.9 245.6,431.6 250.1,428.3 254.5,425.0 258.9,421.8 263.4,418.5 267.8,415.3 272.3,412.0 276.7,408.8 281.1,405.6 285.6,402.5 290.0,399.3 294.5,396.2 298.9,393.0 303.4,389.9 307.8,386.8 312.2,383.7 316.7,380.6 321.1,377.5 325.6,374.4 330.0,371.4 334.4,368.3 338.9,365.3 343.3,362.3 347.8,359.3 352.2,356.3 356.6,353.3 361.1,350.3 365.5,347.3 370.0,344.4 374.4,341.4 378.9,338.5 383.3,335.5 387.7,332.6 392.2,329.7 396.6,326.8 401.1,323.9 405.5,321.0 409.9,318.1 414.4,315.3 418.8,312.4 423.3,309.5 427.7,306.7 432.2,303.9 436.6,301.0 441.0,298.2 445.5,295.4 449.9,292.6 454.4,289.8 458.8,287.0 463.2,284.2 467.7,281.4 472.1,278.7 476.6,275.9 481.0,273.2 485.5,270.4 489.9,267.7 494.3,264.9 498.8,262.2 503.2,259.5 507.7,256.8 512.1,254.1 516.5,251.4 521.0,248.7 525.4,246.0 529.9,243.3 534.3,240.6 538.7,238.0 543.2,235.3 547.6,232.6 552.1,230.0 556.5,227.4 561.0,224.7 565.4,222.1 569.8,219.5 574.3,216.8 578.7,214.2 583.2,211.6 587.6,209.0 592.0,206.4 596.5,203.8 600.9,201.2 605.4,198.6 609.8,196.1 614.3,193.5 618.7,190.9 623.1,188.3 627.6,185.8 632.0,183.2 636.5,180.7 640.9,178.1 645.3,175.6 649.8,173.1 654.2,170.5 658.7,168.0 663.1,165.5 667.5,163.0 672.0,160.4 676.4,157.9 680.9,155.4 685.3,152.9 689.8,150.4 694.2,147.9 698.6,145.4 703.1,143.0 707.5,140.5 712.0,138.0 716.4,135.5 720.8,133.0 725.3,130.6 729.7,128.1 734.2,125.6 738.6,123.2" fill="none" stroke="#a6cee3" stroke-width="1.9"/>
<polyline points="72.4,590.7 76.8,586.5 81.3,583.1 85.7,579.8 90.2,576.8 94.6,573.8 99.0,570.9 103.5,568.0 107.9,565.2 112.4,562.5 116.8,559.8 121.3,557.1 125.7,554.4 130.1,551.8 134.6,549.2 139.0,546.7 143.5,544.1 147.9,541.6 152.3,539.1 156.8,536.6 161.2,534.2 165.7,531.7 170.1,529.3 174.6,526.8 179.0,524.4 183.4,522.0 187.9,519.7 192.3,517.3 196.8,514.9 201.2,512.6 205.6,510.2 210.1,507.9 214.5,505.6 219.0,503.3 223.4,501.0 227.8,498.7 232.3,496.4 236.7,494.1 241.2,491.9 245.6,489.6 250.1,487.4 254.5,485.1 258.9,482.9 263.4,480.6 267.8,478.4 272.3,476.2 276.7,474.0 281.1,471.8 285.6,469.6 290.0,467.4 294.5,465.2 298.9,463.0 303.4,460.9 307.8,458.7 312.2,456.5 316.7,454.4 321.1,452.2 325.6,450.1 330.0,447.9 334.4,445.8 338.9,443.6 343.3,441.5 347.8,439.4 352.2,437.3 356.6,435.1 361.1,433.0 365.5,430.9 370.0,428.8 374.4,426.7 378.9,424.6 383.3,422.5 387.7,420.4 392.2,418.4 396.6,416.3 401.1,414.2 405.5,412.1 409.9,410.1 414.4,408.0 418.8,405.9 423.3,403.9 427.7,401.8 432.2,399.8 436.6,397.7 441.0,395.7 445.5,393.6 449.9,391.6 454.4,389.6 458.8,387.5 463.2,385.5 467.7,383.5 472.1,381.4 476.6,379.4 481.0,377.4 485.5,375.4 489.9,373.4 494.3,371.4 498.8,369.3 503.2,367.3 507.7,365.3 512.1,363.3 516.5,361.3 521.0,359.4 525.4,357.4 529.9,355.4 534.3,353.4 538.7,351.4 543.2,349.4 547.6,347.4 552.1,345.5 556.5,343.5 561.0,341.5 565.4,339.5 569.8,337.6 574.3,335.6 578.7,333.7 583.2,331.7 587.6,329.7 592.0,327.8 596.5,325.8 600.9,323.9 605.4,321.9 609.8,320.0 614.3,318.0 618.7,316.1 623.1,314.1 627.6,312.2 632.0,310.3 636.5,308.3 640.9,306.4 645.3,304.5 649.8,302.5 654.2,300.6 658.7,298.7 663.1,296.8 667.5,294.8 672.0,292.9 676.4,291.0 680.9,289.1 685.3,287.2 689.8,285.3 694.2,283.3 698.6,281.4 703.1,279.5 707.5,277.6 712.0,275.7 716.4,273.8 720.8,271.9 725.3,270.0 729.7,268.1 734.2,266.2 738.6,264.3" fill="none" stroke="#f99a9a" stroke-width="1.8"/>
<polyline points="72.4,590.7 76.8,583.4 81.3,577.1 85.7,571.1 90.2,565.4 94.6,559.8 99.0,554.3 103.5,548.9 107.9,543.6 112.4,538.4 116.8,533.2 121.3,528.1 125.7,523.0 130.1,518.0 134.6,513.0 139.0,508.1 143.5,503.2 147.9,498.3 152.3,493.5 156.8,488.6 161.2,483.9 165.7,479.1 170.1,474.3 174.6,469.6 179.0,464.9 183.4,460.2 187.9,455.6 192.3,450.9 196.8,446.3 201.2,441.7 205.6,437.1 210.1,432.6 214.5,428.0 219.0,423.5 223.4,418.9 227.8,414.4 232.3,409.9 236.7,405.4 241.2,401.0 245.6,396.5 250.1,392.1 254.5,387.6 258.9,383.2 263.4,378.8 267.8,374.4 272.3,370.0 276.7,365.6 281.1,361.2 285.6,356.9 290.0,352.5 294.5,348.2 298.9,343.8 303.4,339.5 307.8,335.2 312.2,330.9 316.7,326.6 321.1,322.3 325.6,318.0 330.0,313.7 334.4,309.5 338.9,305.2 343.3,300.9 347.8,296.7 352.2,292.5 356.6,288.2 361.1,284.0 365.5,279.8 370.0,275.6 374.4,271.4 378.9,267.2 383.3,263.0 387.7,258.8 392.2,254.6 396.6,250.5 401.1,246.3 405.5,242.1 409.9,238.0 414.4,233.8 418.8,229.7 423.3,225.5 427.7,221.4 432.2,217.3 436.6,213.2 441.0,209.0 445.5,204.9 449.9,200.8 454.4,196.7 458.8,192.6 463.2,188.5 467.7,184.5 472.1,180.4 476.6,176.3 481.0,172.2 485.5,168.2 489.9,164.1 494.3,160.0 498.8,156.0 503.2,151.9 507.7,147.9 512.1,143.8 516.5,139.8 521.0,135.8 525.4,131.8 529.9,127.7 534.3,123.7 538.7,119.7 543.2,115.7 547.6,111.7 552.1,107.7 556.5,103.7 561.0,99.7 565.4,95.7 569.8,91.7 574.3,87.7 578.7,83.7 583.2,79.8 587.6,75.8 592.0,71.8 596.5,67.9 600.9,63.9 605.4,59.9 609.8,56.0 614.3,52.0 618.7,48.1 623.1,44.1 627.6,40.2 632.0,36.3 636.5,32.3 640.9,28.4 645.3,24.5 649.8,20.5 654.2,16.6 658.7,12.7 663.1,8.8 667.5,4.9 672.0,1.0 676.4,-3.0 680.9,-6.9 685.3,-10.8 689.8,-14.7 694.2,-18.5 698.6,-22.4 703.1,-26.3 707.5,-30.2 712.0,-34.1 716.4,-38.0 720.8,-41.9 725.3,-45.7 729.7,-49.6 734.2,-53.5 738.6,-57.3" fill="none" stroke="#c91f27" stroke-width="1.9"/>
<polyline points="72.4,590.7 76.8,585.3 81.2,580.7 85.6,576.5 90.0,572.4 94.4,568.5 98.8,564.6 103.2,560.8 107.6,557.1 112.1,553.5 116.5,549.9 120.9,546.3 125.3,542.8 129.7,539.4 134.1,535.9 138.5,532.5 142.9,529.1 147.3,525.8 151.7,522.4 156.1,519.1 160.5,515.8 164.9,512.6 169.3,509.3 173.7,506.1 178.1,502.9 182.5,499.7 187.0,496.5 191.4,493.4 195.8,490.2 200.2,487.1 204.6,484.0 209.0,480.8 213.4,477.8 217.8,474.7 222.2,471.6 226.6,468.5 231.0,465.5 235.4,462.5 239.8,459.4 244.2,456.4 248.6,453.4 253.0,450.4 257.4,447.4 261.9,444.4 266.3,441.5 270.7,438.5 275.1,435.5 279.5,432.6 283.9,429.6 288.3,426.7 292.7,423.8 297.1,420.9 301.5,418.0 305.9,415.0 310.3,412.2 314.7,409.3 319.1,406.4 323.5,403.5 327.9,400.6 332.3,397.8 336.8,394.9 341.2,392.1 345.6,389.2 350.0,386.4 354.4,383.5 358.8,380.7 363.2,377.9 367.6,375.1 372.0,372.2 376.4,369.4 380.8,366.6 385.2,363.8 389.6,361.0 394.0,358.2 398.4,355.5 402.8,352.7 407.2,349.9 411.7,347.1 416.1,344.4 420.5,341.6 424.9,338.8 429.3,336.1 433.7,333.3 438.1,330.6 442.5,327.9 446.9,325.1 451.3,322.4 455.7,319.7 460.1,316.9 464.5,314.2 468.9,311.5 473.3,308.8 477.7,306.1 482.1,303.4 486.6,300.7 491.0,298.0 495.4,295.3 499.8,292.6 504.2,289.9 508.6,287.2 513.0,284.5 517.4,281.9 521.8,279.2 526.2,276.5 530.6,273.8 535.0,271.2 539.4,268.5 543.8,265.9 548.2,263.2 552.6,260.5 557.0,257.9 561.5,255.2 565.9,252.6 570.3,250.0 574.7,247.3 579.1,244.7 583.5,242.1 587.9,239.4 592.3,236.8 596.7,234.2 601.1,231.6 605.5,228.9 609.9,226.3 614.3,223.7 618.7,221.1 623.1,218.5 627.5,215.9 631.9,213.3 636.4,210.7 640.8,208.1 645.2,205.5 649.6,202.9 654.0,200.3 658.4,197.7 662.8,195.1 667.2,192.6 671.6,190.0 676.0,187.4 680.4,184.8 684.8,182.3 689.2,179.7 693.6,177.1 698.0,174.6 702.4,172.0 706.8,169.4 711.3,166.9 715.7,164.3 720.1,161.8 724.5,159.2 728.9,156.7 733.3,154.1" fill="none" stroke="#cab2d6" stroke-width="2.2"/>
<polyline points="72.4,590.7 76.8,585.4 81.3,580.9 85.7,576.6 90.2,572.5 94.6,568.6 99.0,564.7 103.5,560.9 107.9,557.1 112.4,553.5 116.8,549.8 121.3,546.2 125.7,542.7 130.1,539.1 134.6,535.6 139.0,532.2 143.5,528.7 147.9,525.3 152.3,521.9 156.8,518.6 161.2,515.2 165.7,511.9 170.1,508.6 174.6,505.3 179.0,502.0 183.4,498.7 187.9,495.5 192.3,492.2 196.8,489.0 201.2,485.8 205.6,482.6 210.1,479.4 214.5,476.3 219.0,473.1 223.4,470.0 227.8,466.8 232.3,463.7 236.7,460.6 241.2,457.5 245.6,454.4 250.1,451.3 254.5,448.2 258.9,445.1 263.4,442.1 267.8,439.0 272.3,436.0 276.7,432.9 281.1,429.9 285.6,426.9 290.0,423.9 294.5,420.9 298.9,417.8 303.4,414.9 307.8,411.9 312.2,408.9 316.7,405.9 321.1,402.9 325.6,400.0 330.0,397.0 334.4,394.1 338.9,391.1 343.3,388.2 347.8,385.2 352.2,382.3 356.6,379.4 361.1,376.5 365.5,373.5 370.0,370.6 374.4,367.7 378.9,364.8 383.3,361.9 387.7,359.0 392.2,356.2 396.6,353.3 401.1,350.4 405.5,347.5 409.9,344.7 414.4,341.8 418.8,338.9 423.3,336.1 427.7,333.2 432.2,330.4 436.6,327.6 441.0,324.7 445.5,321.9 449.9,319.0 454.4,316.2 458.8,313.4 463.2,310.6 467.7,307.8 472.1,305.0 476.6,302.1 481.0,299.3 485.5,296.5 489.9,293.7 494.3,290.9 498.8,288.2 503.2,285.4 507.7,282.6 512.1,279.8 516.5,277.0 521.0,274.3 525.4,271.5 529.9,268.7 534.3,265.9 538.7,263.2 543.2,260.4 547.6,257.7 552.1,254.9 556.5,252.2 561.0,249.4 565.4,246.7 569.8,243.9 574.3,241.2 578.7,238.5 583.2,235.7 587.6,233.0 592.0,230.3 596.5,227.5 600.9,224.8 605.4,222.1 609.8,219.4 614.3,216.7 618.7,214.0 623.1,211.2 627.6,208.5 632.0,205.8 636.5,203.1 640.9,200.4 645.3,197.7 649.8,195.0 654.2,192.4 658.7,189.7 663.1,187.0 667.5,184.3 672.0,181.6 676.4,178.9 680.9,176.2 685.3,173.6 689.8,170.9 694.2,168.2 698.6,165.6 703.1,162.9 707.5,160.2 712.0,157.6 716.4,154.9 720.8,152.2 725.3,149.6 729.7,146.9 734.2,144.3 738.6,141.6" fill="none" stroke="#6a3d9a" stroke-width="2.9"/>
</g>
<rect x="72.4" y="8.0" width="666.2" height="582.7" fill="none" stroke="#1a1a1a" stroke-width="1.4"/>
<path d="M127.9 590.7v-8.7M127.9 8.0v8.7M183.4 590.7v-16.6M183.4 8.0v16.6M239.0 590.7v-8.7M239.0 8.0v8.7M294.5 590.7v-16.6M294.5 8.0v16.6M350.0 590.7v-8.7M350.0 8.0v8.7M405.5 590.7v-16.6M405.5 8.0v16.6M461.0 590.7v-8.7M461.0 8.0v8.7M516.5 590.7v-16.6M516.5 8.0v16.6M572.1 590.7v-8.7M572.1 8.0v8.7M627.6 590.7v-16.6M627.6 8.0v16.6M683.1 590.7v-8.7M683.1 8.0v8.7M72.4 554.3h8.7M738.6 554.3h-8.7M72.4 517.9h16.6M738.6 517.9h-16.6M72.4 481.4h8.7M738.6 481.4h-8.7M72.4 445.0h16.6M738.6 445.0h-16.6M72.4 408.6h8.7M738.6 408.6h-8.7M72.4 372.2h16.6M738.6 372.2h-16.6M72.4 335.8h8.7M738.6 335.8h-8.7M72.4 299.3h16.6M738.6 299.3h-16.6M72.4 262.9h8.7M738.6 262.9h-8.7M72.4 226.5h16.6M738.6 226.5h-16.6M72.4 190.1h8.7M738.6 190.1h-8.7M72.4 153.7h16.6M738.6 153.7h-16.6M72.4 117.2h8.7M738.6 117.2h-8.7M72.4 80.8h16.6M738.6 80.8h-16.6M72.4 44.4h8.7M738.6 44.4h-8.7" stroke="#1a1a1a" stroke-width="1.3" fill="none"/>
<rect x="97.1" y="32.7" width="316.2" height="172.3" fill="#fff" stroke="#333" stroke-width="1.3"/>
<line x1="106.8" x2="140.2" y1="50.7" y2="50.7" stroke="#33a02c" stroke-width="1.9"/>
<text x="156.5" y="55.6" class="lg">Equation (1)</text>
<line x1="106.8" x2="140.2" y1="78.0" y2="78.0" stroke="#a6cee3" stroke-width="1.9"/>
<text x="156.5" y="82.9" class="lg">Equation (17), equilibrium</text>
<line x1="106.8" x2="140.2" y1="105.3" y2="105.3" stroke="#f99a9a" stroke-width="1.8"/>
<text x="156.5" y="110.2" class="lg">Equation (23), equilibrium</text>
<line x1="106.8" x2="140.2" y1="132.6" y2="132.6" stroke="#c91f27" stroke-width="1.9"/>
<text x="156.5" y="137.5" class="lg">Equation (23), loop-punching</text>
<line x1="106.8" x2="140.2" y1="159.9" y2="159.9" stroke="#cab2d6" stroke-width="2.2"/>
<text x="156.5" y="164.8" class="lg">Equation (24)</text>
<line x1="106.8" x2="140.2" y1="187.2" y2="187.2" stroke="#6a3d9a" stroke-width="2.9"/>
<text x="156.5" y="192.1" class="lg">Equation (25)</text>
<text x="73.3" y="615.1" class="tk" text-anchor="middle">0</text>
<text x="184.3" y="615.1" class="tk" text-anchor="middle">50</text>
<text x="295.4" y="615.1" class="tk" text-anchor="middle">100</text>
<text x="406.4" y="615.1" class="tk" text-anchor="middle">150</text>
<text x="517.4" y="615.1" class="tk" text-anchor="middle">200</text>
<text x="628.5" y="615.1" class="tk" text-anchor="middle">250</text>
<text x="739.5" y="615.1" class="tk" text-anchor="middle">300</text>
<text x="64.5" y="598.1" class="tk" text-anchor="end">0</text>
<text x="64.5" y="525.3" class="tk" text-anchor="end">100</text>
<text x="64.5" y="452.4" class="tk" text-anchor="end">200</text>
<text x="64.5" y="379.6" class="tk" text-anchor="end">300</text>
<text x="64.5" y="306.7" class="tk" text-anchor="end">400</text>
<text x="64.5" y="233.9" class="tk" text-anchor="end">500</text>
<text x="64.5" y="161.1" class="tk" text-anchor="end">600</text>
<text x="64.5" y="88.2" class="tk" text-anchor="end">700</text>
<text x="64.5" y="15.4" class="tk" text-anchor="end">800</text>
<text x="406.3" y="639" class="ax" text-anchor="middle">Vacancies per bubble</text>
<text transform="translate(16.4,298.6) rotate(-90)" class="ay" text-anchor="middle">Helium per bubble</text>
</svg>
</body></html>
